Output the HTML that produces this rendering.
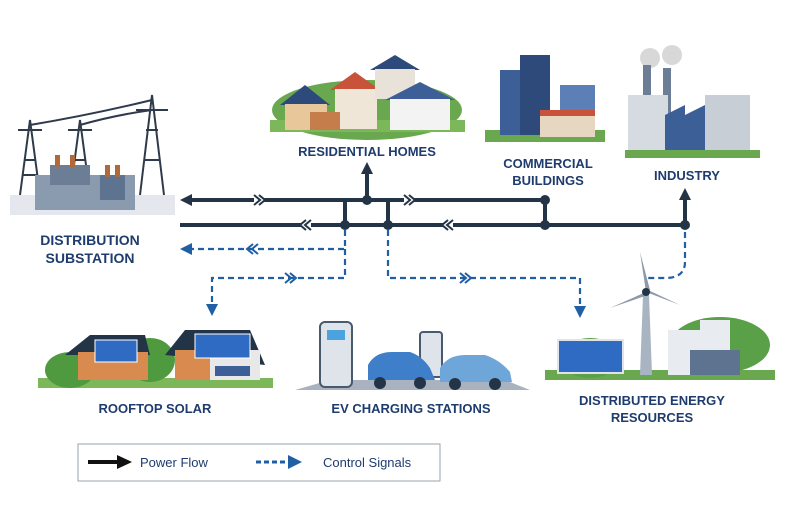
<!DOCTYPE html>
<html><head><meta charset="utf-8"><style>
html,body{margin:0;padding:0;background:#fff;}
svg{display:block;}
text{font-family:"Liberation Sans",sans-serif;font-weight:bold;fill:#1f3c6e;}
</style></head><body>
<svg width="795" height="515" viewBox="0 0 795 515" xmlns="http://www.w3.org/2000/svg">
<defs>
<marker id="ab" markerWidth="8" markerHeight="8" refX="4" refY="4" orient="auto" markerUnits="userSpaceOnUse" viewBox="0 0 8 8"><path d="M0,0 L8,4 L0,8z" fill="#243447"/></marker>
<marker id="ad" markerWidth="8" markerHeight="8" refX="4" refY="4" orient="auto" markerUnits="userSpaceOnUse" viewBox="0 0 8 8"><path d="M0,0 L8,4 L0,8z" fill="#1f5fa3"/></marker>
</defs>

<!-- Substation -->
<g>
<rect x="10" y="195" width="165" height="20" fill="#e4e8ee"/>
<g stroke="#2f3b4b" stroke-width="2" fill="none">
<path d="M20,195 L30,120 L40,195 M24,160 L36,160 M22,175 L38,175 M18,130 L42,130"/>
<path d="M70,195 L80,120 L90,195 M74,160 L86,160 M68,130 L92,130"/>
<path d="M140,195 L152,95 L164,195 M144,160 L160,160 M146,130 L158,130 M136,110 L168,110"/>
<path d="M30,125 Q90,115 152,100 M80,125 Q115,115 152,110"/>
</g>
<rect x="35" y="175" width="100" height="35" fill="#8a9bb0"/>
<rect x="50" y="165" width="40" height="20" fill="#6b7e96"/>
<rect x="100" y="175" width="25" height="25" fill="#5d7390"/>
<rect x="55" y="155" width="5" height="12" fill="#b06a3a"/><rect x="70" y="155" width="5" height="12" fill="#b06a3a"/><rect x="105" y="165" width="5" height="12" fill="#b06a3a"/><rect x="115" y="165" width="5" height="12" fill="#b06a3a"/>
</g>
<text x="90" y="245" font-size="14" text-anchor="middle">DISTRIBUTION</text>
<text x="90" y="263" font-size="14" text-anchor="middle">SUBSTATION</text>

<!-- Residential -->
<ellipse cx="367" cy="110" rx="95" ry="30" fill="#6aa84f"/>
<rect x="270" y="120" width="195" height="12" fill="#7cb85a"/>
<path d="M280,105 L305,85 L330,105z" fill="#2e4a7a"/><rect x="285" y="104" width="42" height="26" fill="#e8c79a"/>
<path d="M330,90 L355,72 L380,90z" fill="#c9533a"/><rect x="335" y="89" width="42" height="40" fill="#f0e6d8"/>
<path d="M370,70 L395,55 L420,70z" fill="#2e4a7a"/><rect x="375" y="69" width="40" height="30" fill="#e8e2d8"/>
<path d="M385,100 L420,82 L455,100z" fill="#3d5f97"/><rect x="390" y="99" width="60" height="31" fill="#f3f3f3"/>
<rect x="310" y="112" width="30" height="18" fill="#c47d4b"/>
<text x="367" y="156" font-size="13" text-anchor="middle">RESIDENTIAL HOMES</text>

<!-- Commercial -->
<rect x="485" y="130" width="120" height="12" fill="#6aa84f"/>
<rect x="500" y="70" width="30" height="65" fill="#3d5f97"/>
<rect x="520" y="55" width="30" height="80" fill="#2e4a7a"/>
<rect x="560" y="85" width="35" height="50" fill="#5b7fb6"/>
<rect x="540" y="112" width="55" height="25" fill="#e7d6c2"/><rect x="540" y="110" width="55" height="6" fill="#c9533a"/>
<text x="548" y="168" font-size="13" text-anchor="middle">COMMERCIAL</text>
<text x="548" y="185" font-size="13" text-anchor="middle">BUILDINGS</text>

<!-- Industry -->
<rect x="625" y="150" width="135" height="8" fill="#6aa84f"/>
<circle cx="650" cy="58" r="10" fill="#d8d8d8"/><circle cx="672" cy="55" r="10" fill="#d8d8d8"/>
<rect x="643" y="65" width="8" height="50" fill="#6b7e96"/><rect x="663" y="68" width="8" height="50" fill="#6b7e96"/>
<rect x="628" y="95" width="40" height="55" fill="#d6dbe2"/>
<path d="M665,150 L665,115 L685,105 L685,115 L705,105 L705,115 L725,105 L725,150z" fill="#3d5f97"/>
<rect x="705" y="95" width="45" height="55" fill="#c8ced6"/>
<text x="687" y="180" font-size="13" text-anchor="middle">INDUSTRY</text>

<!-- Power lines -->
<g stroke="#243447" stroke-width="4" fill="none">
<line x1="186" y1="200" x2="545" y2="200" />
<line x1="180" y1="225" x2="685" y2="225"/>
<line x1="345" y1="200" x2="345" y2="225"/>
<line x1="388" y1="200" x2="388" y2="225"/>
<line x1="545" y1="200" x2="545" y2="225"/>
<line x1="367" y1="200" x2="367" y2="172"/>
<line x1="685" y1="225" x2="685" y2="198"/>
</g>
<path d="M180,200 L192,194 L192,206z" fill="#243447"/>
<path d="M367,162 L361,174 L373,174z" fill="#243447"/>
<path d="M685,188 L679,200 L691,200z" fill="#243447"/>
<g fill="#243447">
<circle cx="367" cy="200" r="5"/><circle cx="545" cy="200" r="5"/>
<circle cx="345" cy="225" r="5"/><circle cx="388" cy="225" r="5"/><circle cx="545" cy="225" r="5"/><circle cx="685" cy="225" r="5"/>
</g>
<g stroke="#243447" stroke-width="2" fill="#fff">
<path d="M254,195 L260,200 L254,205 M259,195 L265,200 L259,205"/>
<path d="M404,195 L410,200 L404,205 M409,195 L415,200 L409,205"/>
<path d="M306,220 L300,225 L306,230 M311,220 L305,225 L311,230"/>
<path d="M448,220 L442,225 L448,230 M453,220 L447,225 L453,230"/>
</g>

<!-- Control lines -->
<g stroke="#1f5fa3" stroke-width="2.2" fill="none" stroke-dasharray="6,4">
<path d="M345,230 L345,249 L190,249"/>
<path d="M345,249 L345,278 L212,278 L212,306"/>
<path d="M388,230 L388,278 L580,278 L580,308"/>
<path d="M685,232 L685,262 Q685,278 665,278 L645,278"/>
</g>
<path d="M180,249 L192,243 L192,255z" fill="#1f5fa3"/>
<path d="M212,316 L206,304 L218,304z" fill="#1f5fa3"/>
<path d="M580,318 L574,306 L586,306z" fill="#1f5fa3"/>
<g stroke="#1f5fa3" stroke-width="2" fill="none">
<path d="M253,244 L247,249 L253,254 M258,244 L252,249 L258,254"/>
<path d="M285,273 L291,278 L285,283 M290,273 L296,278 L290,283"/>
<path d="M460,273 L466,278 L460,283 M465,273 L471,278 L465,283"/>
</g>

<!-- Rooftop solar -->
<rect x="38" y="378" width="235" height="10" fill="#7cb85a"/>
<ellipse cx="70" cy="370" rx="25" ry="18" fill="#4f9a3f"/><ellipse cx="150" cy="360" rx="25" ry="22" fill="#4f9a3f"/>
<path d="M65,355 L90,335 L145,335 L150,355z" fill="#243447"/>
<rect x="78" y="352" width="70" height="28" fill="#d98a4e"/>
<rect x="95" y="340" width="42" height="22" fill="#2f6bc2" stroke="#fff" stroke-width="1"/>
<path d="M165,355 L185,330 L250,330 L265,365z" fill="#243447"/>
<rect x="175" y="350" width="85" height="30" fill="#e8e8e8"/><rect x="175" y="350" width="35" height="30" fill="#d98a4e"/>
<rect x="195" y="334" width="55" height="24" fill="#2f6bc2" stroke="#fff" stroke-width="1"/>
<rect x="215" y="366" width="35" height="10" fill="#3d5f97"/>
<text x="155" y="413" font-size="13" text-anchor="middle">ROOFTOP SOLAR</text>

<!-- EV -->
<path d="M295,390 L330,380 L505,380 L530,390z" fill="#a9b2bf"/>
<ellipse cx="400" cy="368" rx="20" ry="12" fill="#6aa84f"/>
<rect x="320" y="322" width="32" height="65" rx="5" fill="#dfe4ea" stroke="#4a5a6e" stroke-width="2"/>
<rect x="327" y="330" width="18" height="10" fill="#4aa3df"/>
<rect x="420" y="332" width="22" height="45" rx="3" fill="#dfe4ea" stroke="#4a5a6e" stroke-width="2"/>
<path d="M368,380 L368,365 Q375,352 392,352 L410,352 Q422,356 430,368 L435,380z" fill="#3f7fc9"/>
<path d="M440,382 L440,368 Q448,355 465,355 L485,355 Q500,360 510,372 L512,382z" fill="#6fa6da"/>
<g fill="#243447"><circle cx="380" cy="383" r="6"/><circle cx="420" cy="383" r="6"/><circle cx="455" cy="384" r="6"/><circle cx="495" cy="384" r="6"/></g>
<text x="411" y="413" font-size="13" text-anchor="middle">EV CHARGING STATIONS</text>

<!-- DER -->
<rect x="545" y="370" width="230" height="10" fill="#6aa84f"/>
<ellipse cx="590" cy="358" rx="30" ry="20" fill="#5aa048"/><ellipse cx="720" cy="345" rx="50" ry="28" fill="#5aa048"/>
<path d="M640,375 L643,295 L649,295 L652,375z" fill="#a9b4c2"/>
<path d="M646,292 L640,252 L650,290z M646,292 L610,308 L645,296z M646,292 L680,305 L648,290z" fill="#8d99a8"/>
<circle cx="646" cy="292" r="4" fill="#243447"/>
<rect x="558" y="340" width="65" height="33" fill="#2f6bc2" stroke="#dfe4ea" stroke-width="2"/>
<rect x="668" y="330" width="40" height="45" fill="#e8ebef"/><rect x="700" y="320" width="30" height="55" fill="#e8ebef"/>
<rect x="690" y="350" width="50" height="25" fill="#5d7390"/>
<text x="652" y="405" font-size="13" text-anchor="middle">DISTRIBUTED ENERGY</text>
<text x="652" y="422" font-size="13" text-anchor="middle">RESOURCES</text>

<!-- Legend -->
<rect x="78" y="444" width="362" height="37" fill="#fff" stroke="#9aa3ae" stroke-width="1"/>
<line x1="88" y1="462" x2="118" y2="462" stroke="#111" stroke-width="4"/>
<path d="M132,462 L117,455 L117,469z" fill="#111"/>
<text x="140" y="467" font-size="13" font-weight="normal" style="font-weight:normal" fill="#1a1a1a">Power Flow</text>
<line x1="256" y1="462" x2="288" y2="462" stroke="#1f5fa3" stroke-width="3" stroke-dasharray="5,3"/>
<path d="M302,462 L288,455 L288,469z" fill="#1f5fa3"/>
<text x="323" y="467" font-size="13" style="font-weight:normal" fill="#1a1a1a">Control Signals</text>
</svg>
</body></html>
